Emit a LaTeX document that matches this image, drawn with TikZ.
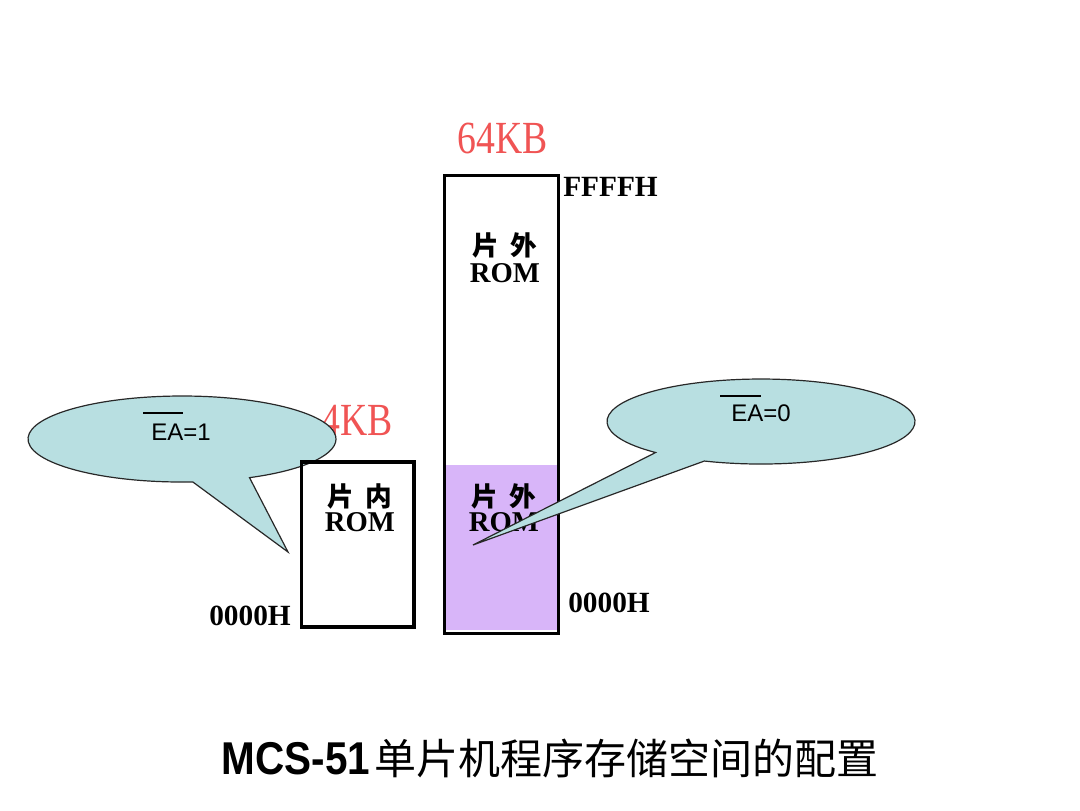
\documentclass[tikz,border=0pt]{standalone}
\usepackage{fontspec}
\usepackage{graphicx}
\setmainfont{Liberation Serif}
\newfontfamily\cjk{Noto Sans CJK SC}
\newfontfamily\sansf{Liberation Sans}
\definecolor{redlab}{RGB}{240,84,84}
\definecolor{callfill}{RGB}{184,223,225}
\definecolor{callline}{RGB}{40,40,40}
\definecolor{purplefill}{RGB}{216,181,249}
\tikzset{
  boxline/.style={line width=2.3pt, draw=black},
  sizelab/.style={inner sep=0pt, text=redlab, font=\fontsize{34.5}{40}\selectfont},
  addrlab/.style={inner sep=0pt, font=\fontsize{22}{26}\selectfont\bfseries},
  romlab/.style={inner sep=0pt, font=\fontsize{21.5}{25}\selectfont\bfseries},
  cjklab/.style={inner sep=0pt, font=\fontsize{20}{23}\selectfont\cjk\bfseries},
  ealab/.style={inner sep=0pt, font=\fontsize{18}{21}\selectfont\sansf},
  callout/.style={fill=callfill, draw=callline, line width=0.9pt, line join=miter},
  overbar/.style={draw=black, line width=0.8pt}
}
\begin{document}
\begin{tikzpicture}[x=0.75pt, y=-0.75pt]
\useasboundingbox (0,0) rectangle (1080,810);

% size labels
\node[sizelab] (kb64) at (502.5,138) {\scalebox{0.82}[1]{64KB}};
\node[sizelab] (kb4) at (357,420.5) {\scalebox{0.82}[1]{4KB}};

% left callout (EA=1)
\path[callout] (192.75,481.9) arc[start angle=86, end angle=424, x radius=154, y radius=43] -- (288,552) -- cycle;
\node[ealab] (ea1) at (181,432) {EA=1};
\draw[overbar] (143,413) -- (183,413);

% internal ROM box
\coordinate (inTL) at (301.5,462);
\coordinate (inBR) at (414,627);
\draw[boxline] (inTL) rectangle (inBR);
\node[cjklab] (inA) at (360,496) {片\hspace{0.45em}内};
\node[romlab] (inB) at (360,522) {ROM};
\node[addrlab] (in0) at (250,616) {0000H};

% external ROM box
\coordinate (exTL) at (444.5,175.5);
\coordinate (exBR) at (558.5,633.5);
\coordinate (pTL) at (444.5,465);
\coordinate (pBR) at (558.5,630);
\fill[purplefill] (pTL) rectangle (pBR);
\draw[boxline] (exTL) rectangle (exBR);
\node[cjklab] (exA) at (505,245.5) {片\hspace{0.45em}外};
\node[romlab] (exB) at (505,273) {ROM};
\node[cjklab] (exC) at (504,496) {片\hspace{0.45em}外};
\node[romlab] (exD) at (504,522.5) {ROM};
\node[addrlab, anchor=west] (exF) at (563,186.5) {FFFFH};
\node[addrlab, anchor=west] (ex0) at (568,603) {0000H};

% right callout (EA=0)
\path[callout] (655.6,452.5) arc[start angle=133.2, end angle=471.6, x radius=154, y radius=42.5] -- (473,545) -- cycle;
\node[ealab] (ea0) at (761,413) {EA=0};
\draw[overbar] (720,396) -- (761,396);

% title
\node[inner sep=0pt] (title) at (550,758) {\fontsize{34.5}{40}\selectfont\scalebox{0.88}[1]{\sansf\bfseries MCS-51}\hspace{3pt}{\cjk\fontsize{31.5}{40}\selectfont 单片机程序存储空间的配置}};
\end{tikzpicture}
\end{document}
